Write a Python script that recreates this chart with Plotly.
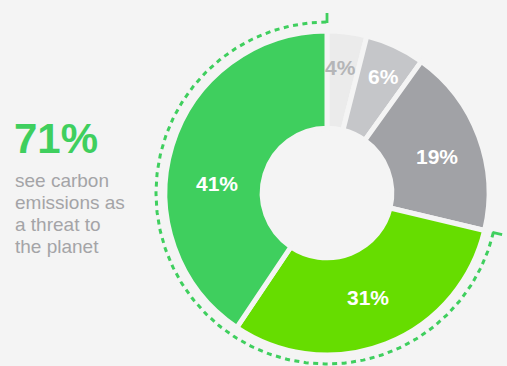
import numpy as np
import plotly.graph_objects as go

# Survey answers, clockwise from 12 o'clock
slice_labels = ["4%", "6%", "19%", "31%", "41%"]
shares = [4, 6, 19, 31, 41]
slice_colors = ["#ebebeb", "#c5c6c9", "#a1a2a6", "#66dd00", "#3fcf5e"]
label_colors = ["#b4b5b7", "#ffffff", "#ffffff", "#ffffff", "#ffffff"]
threat_slices = [3, 4]          # slices grouped by the dashed bracket
headline = "71%"
caption_lines = ["see carbon", "emissions as", "a threat to", "the planet"]

BG = "#f4f4f4"
GREEN = "#3fcf5e"
FONT = "Liberation Sans, Arial, sans-serif"
W, H = 507, 366
CX, CY = 327, 193              # donut centre in px
R_PIE = 162                    # pie domain half-size in px
ARC_R = 171
TICK_R = 180
# label placement tweaks (radius in px, angle shift in degrees)
label_r = [126, 129, 116, 112, 110]
label_shift = [-1.2, 0.8, 2.4, 0.0, -12.0]


def px(x):
    return x / W


def py(y):
    return 1 - y / H


def polar_px(r, deg):
    """Clockwise-from-top angle -> pixel position around the donut centre."""
    a = np.radians(deg)
    return CX + r * np.sin(a), CY - r * np.cos(a)


total = sum(shares)
cum = np.cumsum([0] + shares)
mid_deg = [(cum[i] + shares[i] / 2) / total * 360 for i in range(len(shares))]
arc_start = cum[min(threat_slices)] / total * 360
arc_end = cum[max(threat_slices) + 1] / total * 360

fig = go.Figure()

fig.add_trace(go.Pie(
    values=shares,
    labels=slice_labels,
    sort=False,
    direction="clockwise",
    rotation=0,
    hole=0.4,
    marker=dict(colors=slice_colors, line=dict(color=BG, width=5)),
    textinfo="none",
    hoverinfo="skip",
    showlegend=False,
    domain=dict(x=[px(CX - R_PIE), px(CX + R_PIE)],
                y=[py(CY + R_PIE), py(CY - R_PIE)]),
))

# dashed bracket around the "threat" slices (pixel-unit overlay axes)
theta_arc = np.linspace(arc_start, arc_end, 240)
ax_, ay_ = polar_px(ARC_R, theta_arc)
fig.add_trace(go.Scatter(
    x=ax_, y=ay_, mode="lines",
    line=dict(color=GREEN, width=3, dash="5px,4.5px"),
    hoverinfo="skip", showlegend=False, cliponaxis=False,
))
for t in (arc_start, arc_end):
    tx, ty = polar_px(np.array([ARC_R - 1, TICK_R]), t)
    fig.add_trace(go.Scatter(
        x=tx, y=ty, mode="lines",
        line=dict(color=GREEN, width=2.8),
        hoverinfo="skip", showlegend=False, cliponaxis=False,
    ))

annotations = []
# slice value labels
for i, lab in enumerate(slice_labels):
    lx, ly = polar_px(label_r[i], mid_deg[i] + label_shift[i])
    annotations.append(dict(
        text=f"<b>{lab}</b>", x=px(lx), y=py(ly), xref="paper", yref="paper",
        xanchor="center", yanchor="middle", showarrow=False,
        font=dict(family=FONT, size=21, color=label_colors[i]),
    ))

annotations.append(dict(
    text=f"<b>{headline}</b>", x=px(12), y=py(138), xref="paper", yref="paper",
    xanchor="left", yanchor="middle", showarrow=False,
    font=dict(family=FONT, size=42, color=GREEN),
))
for i, line in enumerate(caption_lines):
    annotations.append(dict(
        text=line, x=px(13), y=py(180 + 22.3 * i), xref="paper", yref="paper",
        xanchor="left", yanchor="middle", showarrow=False,
        font=dict(family=FONT, size=19, color="#a4a4a7"),
    ))

fig.update_layout(
    width=W, height=H,
    margin=dict(l=0, r=0, t=0, b=0),
    paper_bgcolor=BG, plot_bgcolor="rgba(0,0,0,0)",
    xaxis=dict(range=[0, W], domain=[0, 1], visible=False, fixedrange=True),
    yaxis=dict(range=[H, 0], domain=[0, 1], visible=False, fixedrange=True),
    annotations=annotations,
)

fig.write_html("out.html")
